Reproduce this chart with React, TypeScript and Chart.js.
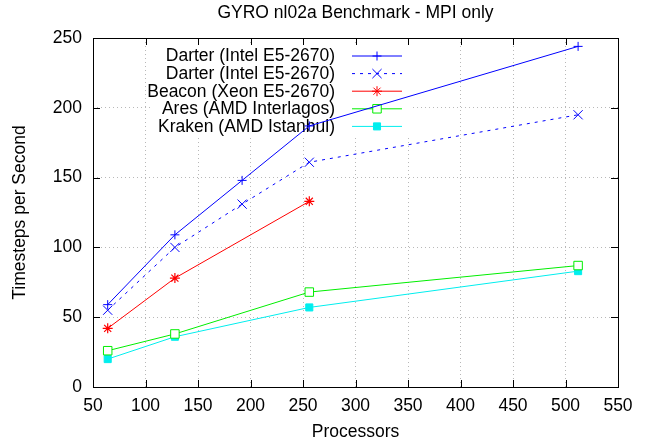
import React, { useEffect, useRef } from "react";
import { Chart, registerables } from "chart.js";

Chart.register(...registerables);

const titleText = "GYRO nl02a Benchmark - MPI only";
const xTitle = "Processors";
const yTitle = "Timesteps per Second";

const darterX = [64, 128, 192, 256, 512];
const darterValues = [59, 109, 148, 187, 244];
const darter2X = [64, 128, 192, 256, 512];
const darter2Values = [55, 100, 131, 161, 195];
const beaconX = [64, 128, 256];
const beaconValues = [42, 78, 133];
const aresX = [64, 128, 256, 512];
const aresValues = [26, 38, 68, 87];
const krakenX = [64, 128, 256, 512];
const krakenValues = [20, 36, 57, 83];

const seriesLabels = [
  "Darter (Intel E5-2670)",
  "Darter (Intel E5-2670)",
  "Beacon (Xeon E5-2670)",
  "Ares (AMD Interlagos)",
  "Kraken (AMD Istanbul)",
];

const FONT = "'Liberation Sans', Arial, Helvetica, sans-serif";
const FS = 17.5;

const toPoints = (xs: number[], ys: number[]) => xs.map((x, i) => ({ x, y: ys[i] }));

function drawPointLocal(ctx: CanvasRenderingContext2D, style: string, r: number, x: number, y: number) {
  ctx.beginPath();
  if (style === "cross") {
    ctx.moveTo(x - r, y);
    ctx.lineTo(x + r, y);
    ctx.moveTo(x, y - r);
    ctx.lineTo(x, y + r);
    ctx.stroke();
  } else if (style === "crossRot") {
    const o = r * Math.SQRT1_2;
    ctx.moveTo(x - o, y - o);
    ctx.lineTo(x + o, y + o);
    ctx.moveTo(x - o, y + o);
    ctx.lineTo(x + o, y - o);
    ctx.stroke();
  } else if (style === "star") {
    const o = r * Math.SQRT1_2;
    ctx.moveTo(x - r, y);
    ctx.lineTo(x + r, y);
    ctx.moveTo(x, y - r);
    ctx.lineTo(x, y + r);
    ctx.moveTo(x - o, y - o);
    ctx.lineTo(x + o, y + o);
    ctx.moveTo(x - o, y + o);
    ctx.lineTo(x + o, y - o);
    ctx.stroke();
  } else if (style === "rect") {
    const s = r * Math.SQRT1_2;
    ctx.rect(x - s, y - s, 2 * s, 2 * s);
    ctx.fill();
    ctx.stroke();
  }
}

const customPlugin = {
  id: "gnuplotStyle",
  beforeDatasetsDraw(chart: any) {
    const ctx = chart.ctx;
    ctx.save();
    ctx.fillStyle = "#ffffff";
    ctx.fillRect(150, 46, 262, 90);
    ctx.font = `${FS}px ${FONT}`;
    ctx.textAlign = "right";
    ctx.textBaseline = "middle";
    const rowY0 = 55.5;
    const rowH = 17.6;
    chart.data.datasets.forEach((ds: any, i: number) => {
      const y = rowY0 + i * rowH;
      ctx.fillStyle = "#000";
      ctx.fillText(seriesLabels[i], 335, y + 1);
      ctx.save();
      ctx.strokeStyle = ds.borderColor;
      ctx.lineWidth = 1;
      ctx.setLineDash(ds.borderDash || []);
      ctx.beginPath();
      ctx.moveTo(352, y + 0.5);
      ctx.lineTo(402, y + 0.5);
      ctx.stroke();
      ctx.restore();
      ctx.save();
      ctx.strokeStyle = ds.pointBorderColor;
      ctx.fillStyle = ds.pointBackgroundColor;
      ctx.lineWidth = 1;
      drawPointLocal(ctx, ds.pointStyle, ds.pointRadius, 377, y + 0.5);
      ctx.restore();
    });
    ctx.restore();
  },
  afterDraw(chart: any) {
    const ctx = chart.ctx;
    const { left, right, top, bottom } = chart.chartArea;
    const xs = chart.scales.x;
    const ys = chart.scales.y;
    ctx.save();
    ctx.strokeStyle = "#000";
    ctx.lineWidth = 1;
    const tl = 7;
    ctx.beginPath();
    xs.ticks.forEach((t: any) => {
      const px = Math.round(xs.getPixelForValue(t.value)) + 0.5;
      ctx.moveTo(px, bottom);
      ctx.lineTo(px, bottom - tl);
      ctx.moveTo(px, top);
      ctx.lineTo(px, top + tl);
    });
    ys.ticks.forEach((t: any) => {
      const py = Math.round(ys.getPixelForValue(t.value)) + 0.5;
      ctx.moveTo(left, py);
      ctx.lineTo(left + tl, py);
      ctx.moveTo(right, py);
      ctx.lineTo(right - tl, py);
    });
    ctx.stroke();
    ctx.strokeRect(Math.round(left) + 0.5, Math.round(top) + 0.5, Math.round(right - left), Math.round(bottom - top));
    ctx.fillStyle = "#000";
    ctx.font = `${FS}px ${FONT}`;
    ctx.textAlign = "center";
    ctx.textBaseline = "middle";
    ctx.fillText(titleText, (left + right) / 2, 13);
    ctx.fillText(xTitle, (left + right) / 2, 432);
    ctx.translate(20, (top + bottom) / 2);
    ctx.rotate(-Math.PI / 2);
    ctx.fillText(yTitle, 0, 0);
    ctx.restore();
  },
};

export default function App() {
  const ref = useRef<HTMLCanvasElement | null>(null);
  useEffect(() => {
    document.body.style.margin = "0";
    const canvas = ref.current!;
    const chart = new Chart(canvas, {
      type: "scatter",
      data: {
        datasets: [
          {
            label: seriesLabels[0],
            data: toPoints(darterX, darterValues),
            showLine: true,
            borderColor: "#0000ff",
            borderWidth: 1,
            pointStyle: "cross",
            pointRadius: 4.5,
            pointBorderColor: "#0000ff",
            pointBackgroundColor: "#0000ff",
            pointBorderWidth: 1,
          },
          {
            label: seriesLabels[1],
            data: toPoints(darter2X, darter2Values),
            showLine: true,
            borderColor: "#0000ff",
            borderWidth: 1,
            borderDash: [3, 5],
            pointStyle: "crossRot",
            pointRadius: 6.5,
            pointBorderColor: "#0000ff",
            pointBackgroundColor: "#0000ff",
            pointBorderWidth: 1,
          },
          {
            label: seriesLabels[2],
            data: toPoints(beaconX, beaconValues),
            showLine: true,
            borderColor: "#ff0000",
            borderWidth: 1,
            pointStyle: "star",
            pointRadius: 5,
            pointBorderColor: "#ff0000",
            pointBackgroundColor: "#ff0000",
            pointBorderWidth: 1.2,
          },
          {
            label: seriesLabels[3],
            data: toPoints(aresX, aresValues),
            showLine: true,
            borderColor: "#00ee00",
            borderWidth: 1,
            pointStyle: "rect",
            pointRadius: 6,
            pointBorderColor: "#00ee00",
            pointBackgroundColor: "#ffffff",
            pointBorderWidth: 1,
          },
          {
            label: seriesLabels[4],
            data: toPoints(krakenX, krakenValues),
            showLine: true,
            borderColor: "#00eeee",
            borderWidth: 1,
            pointStyle: "rect",
            pointRadius: 5,
            pointBorderColor: "#00eeee",
            pointBackgroundColor: "#00eeee",
            pointBorderWidth: 1,
          },
        ],
      },
      options: {
        animation: false,
        responsive: false,
        devicePixelRatio: 1,
        layout: { padding: { top: 38, right: 29, left: 0, bottom: 0 } },
        plugins: {
          legend: { display: false },
          title: { display: false },
          tooltip: { enabled: false },
        },
        scales: {
          x: {
            type: "linear",
            min: 50,
            max: 550,
            ticks: {
              stepSize: 50,
              color: "#000",
              font: { family: FONT, size: FS },
              padding: 9,
              maxRotation: 0,
            },
            grid: { color: "#b8b8b8", drawTicks: false, lineWidth: 1 },
            border: { display: false, dash: [1, 3] },
            afterFit: (s: any) => {
              s.height = 57;
            },
          },
          y: {
            type: "linear",
            min: 0,
            max: 250,
            ticks: {
              stepSize: 50,
              color: "#000",
              font: { family: FONT, size: FS },
              padding: 11,
            },
            grid: { color: "#b8b8b8", drawTicks: false, lineWidth: 1 },
            border: { display: false, dash: [1, 3] },
            afterFit: (s: any) => {
              s.width = 93;
            },
          },
        },
      },
      plugins: [customPlugin],
    } as any);
    return () => chart.destroy();
  }, []);
  return <canvas ref={ref} width={647} height={444} style={{ display: "block" }} />;
}
